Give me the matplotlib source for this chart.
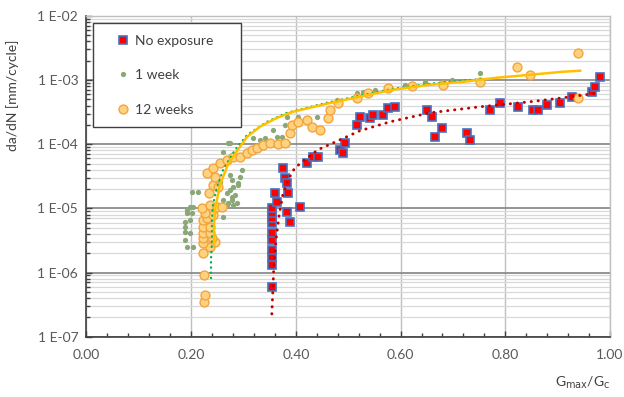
import matplotlib
matplotlib.use('Agg')
import matplotlib.pyplot as plt
from matplotlib.ticker import MultipleLocator, LogLocator, FuncFormatter, NullFormatter
from matplotlib.patches import Rectangle
import numpy as np

plt.rcParams['font.family'] = ['Lato', 'DejaVu Sans']

# No exposure (red squares)
x_none = [0.354, 0.354, 0.354, 0.354, 0.354, 0.354, 0.354, 0.354, 0.354, 0.354,
          0.360, 0.364, 0.375, 0.379, 0.383, 0.385, 0.383, 0.389, 0.408,
          0.421, 0.433, 0.442, 0.484, 0.490, 0.494, 0.517, 0.522, 0.541, 0.547,
          0.566, 0.576, 0.589, 0.650, 0.660, 0.666, 0.679, 0.727, 0.733, 0.771,
          0.790, 0.824, 0.853, 0.862, 0.880, 0.904, 0.927, 0.966, 0.971, 0.981]
y_none = [5.96e-7, 1.32e-6, 1.75e-6, 2.25e-6, 3.23e-6, 4.15e-6, 5.94e-6, 7.1e-6, 8.5e-6, 1.02e-5,
          1.75e-5, 1.26e-5, 4.29e-5, 3.0e-5, 2.5e-5, 1.75e-5, 8.8e-6, 6.15e-6, 1.05e-5,
          5.13e-5, 6.37e-5, 6.37e-5, 8.18e-5, 7.35e-5, 1.05e-4, 2.01e-4, 2.68e-4, 2.58e-4, 2.88e-4,
          2.88e-4, 3.70e-4, 3.84e-4, 3.44e-4, 2.68e-4, 1.31e-4, 1.80e-4, 1.51e-4, 1.17e-4, 3.44e-4,
          4.43e-4, 3.84e-4, 3.44e-4, 3.44e-4, 4.12e-4, 4.43e-4, 5.50e-4, 6.58e-4, 7.87e-4, 1.13e-3]

# 1 week (green dots)
x_1w = [0.1882, 0.1882, 0.1882, 0.1920, 0.2034, 0.1920, 0.1977, 0.2034, 0.1920, 0.2015,
        0.1882, 0.1977, 0.1977, 0.2015, 0.2130, 0.2607, 0.2684, 0.2798, 0.2875, 0.2703,
        0.2779, 0.2779, 0.2684, 0.2798, 0.2894, 0.2932, 0.2741, 0.2970, 0.2779, 0.2894,
        0.2741, 0.2837, 0.2607, 0.2550, 0.2932, 0.3028, 0.2703, 0.2607, 0.2741, 0.3181,
        0.3410, 0.3639, 0.3734, 0.3849, 0.3314, 0.3563, 0.3792, 0.3830, 0.4040, 0.4231,
        0.4403, 0.4785, 0.5167, 0.5282, 0.5511, 0.6084, 0.6466, 0.6982, 0.7517]
y_1w = [6.15e-6, 4.3e-6, 3.23e-6, 2.5e-6, 2.5e-6, 9.5e-6, 1.05e-5, 1.05e-5, 8.5e-6, 8.5e-6,
        5.15e-6, 6.6e-6, 4.15e-6, 1.81e-5, 1.81e-5, 7.37e-6, 1.13e-5, 1.13e-5, 1.22e-5, 1.22e-5,
        1.36e-5, 1.51e-5, 1.75e-5, 2.16e-5, 2.5e-5, 3.1e-5, 3.33e-5, 3.99e-5, 2.79e-5, 2.33e-5,
        1.94e-5, 1.63e-5, 1.36e-5, 2.59e-5, 6.37e-5, 7.62e-5, 1.05e-4, 7.62e-5, 1.05e-4, 1.26e-4,
        1.26e-4, 1.31e-4, 1.31e-4, 1.05e-4, 1.17e-4, 1.68e-4, 2.01e-4, 2.68e-4, 2.68e-4, 2.58e-4,
        2.68e-4, 4.93e-4, 6.34e-4, 6.58e-4, 7.07e-4, 8.45e-4, 9.4e-4, 1.01e-3, 1.30e-3]

# 12 weeks (orange circles)
x_12w = [0.2245, 0.2264, 0.2245, 0.2225, 0.2359, 0.2225, 0.2455, 0.2225, 0.2397, 0.2225,
         0.2359, 0.2225, 0.2359, 0.2225, 0.2302, 0.2416, 0.2264, 0.2206, 0.2359, 0.2493,
         0.2588, 0.2340, 0.2416, 0.2512, 0.2455, 0.2302, 0.2416, 0.2550, 0.2684, 0.2798,
         0.2932, 0.3066, 0.3161, 0.3257, 0.3372, 0.3505, 0.3658, 0.3792, 0.3887, 0.3926,
         0.4040, 0.4212, 0.4308, 0.4461, 0.4613, 0.4651, 0.4804, 0.5167, 0.5377, 0.5759,
         0.6218, 0.6810, 0.7517, 0.8224, 0.8472, 0.9389, 0.9389]
y_12w = [3.47e-7, 4.48e-7, 9.2e-7, 2.02e-6, 2.5e-6, 2.9e-6, 3.0e-6, 3.47e-6, 3.47e-6, 4.15e-6,
         4.15e-6, 5.15e-6, 5.15e-6, 6.6e-6, 7.1e-6, 7.9e-6, 8.5e-6, 1.02e-5, 1.13e-5, 1.05e-5,
         1.05e-5, 1.75e-5, 2.33e-5, 2.16e-5, 3.1e-5, 3.58e-5, 4.29e-5, 5.13e-5, 5.71e-5, 6.37e-5,
         6.37e-5, 7.35e-5, 8.18e-5, 8.8e-5, 9.8e-5, 1.05e-4, 1.01e-4, 1.05e-4, 1.51e-4, 2.01e-4,
         2.24e-4, 2.4e-4, 1.87e-4, 1.68e-4, 2.58e-4, 3.44e-4, 4.43e-4, 5.3e-4, 6.34e-4, 7.59e-4,
         8.15e-4, 8.45e-4, 9.4e-4, 1.61e-3, 1.21e-3, 2.67e-3, 5.3e-4]

# trendlines
tx_none = [0.354, 0.356, 0.358, 0.362, 0.368, 0.375, 0.385, 0.398, 0.417, 0.442,
           0.484, 0.522, 0.580, 0.656, 0.752, 0.847, 0.910, 0.981]
ty_none = [2.26e-7, 5.36e-7, 1.32e-6, 3.23e-6, 7.9e-6, 1.63e-5, 2.79e-5, 4.29e-5, 5.7e-5, 8.2e-5,
           1.17e-4, 1.62e-4, 2.24e-4, 3.09e-4, 3.84e-4, 4.59e-4, 5.3e-4, 6.34e-4]
tx_1w = [0.2378, 0.2378, 0.2397, 0.2397, 0.2416, 0.249, 0.261, 0.284, 0.307, 0.345,
         0.383, 0.459, 0.522, 0.585, 0.656, 0.719, 0.761]
ty_1w = [8.2e-7, 1.57e-6, 3.2e-6, 6.6e-6, 1.13e-5, 2.09e-5, 3.99e-5, 8.18e-5, 1.40e-4, 2.24e-4,
         3.09e-4, 4.43e-4, 5.7e-4, 7.3e-4, 8.77e-4, 9.8e-4, 1.05e-3]
tx_12w = [0.2436, 0.2436, 0.2455, 0.255, 0.270, 0.289, 0.307, 0.331, 0.364, 0.394,
          0.459, 0.522, 0.585, 0.656, 0.719, 0.784, 0.847, 0.910, 0.943]
ty_12w = [2.7e-6, 5.53e-6, 9.5e-6, 2.33e-5, 4.77e-5, 8.18e-5, 1.31e-4, 1.87e-4, 2.58e-4, 3.2e-4,
          4.28e-4, 5.5e-4, 7.07e-4, 8.45e-4, 9.4e-4, 1.09e-3, 1.21e-3, 1.35e-3, 1.40e-3]

txt = '#404040'
fig = plt.figure(figsize=(6.24, 3.97), dpi=100)
ax = fig.add_axes([0.1386, 0.152, 0.8390, 0.8078])

ax.plot(x_none, y_none, 's', ms=5.8, mfc='#ff0000', mec='#4472c4', mew=1.2, label='No exposure', zorder=3)
ax.plot(x_1w, y_1w, 'o', ms=3.8, mfc='#8aa876', mec='#8aa876', mew=0, label='1 week', zorder=3)
ax.plot(x_12w, y_12w, 'o', ms=6.4, mfc='#ffd280', mec='#f4a43c', mew=1.0, label='12 weeks', zorder=3)

ax.plot(tx_1w, ty_1w, color='#00b050', lw=1.7, linestyle=(0, (0.1, 2.1)), dash_capstyle='round', zorder=4)
ax.plot(tx_12w, ty_12w, color='#ffc000', lw=1.8, zorder=4)
ax.plot(tx_none, ty_none, color='#c00000', lw=2.1, linestyle=(0, (0.1, 2.3)), dash_capstyle='round', zorder=4)

ax.set_yscale('log')
ax.set_xlim(0, 1.0)
ax.set_ylim(1e-7, 1e-2)
ax.xaxis.set_major_locator(MultipleLocator(0.2))
ax.xaxis.set_minor_locator(MultipleLocator(0.04))
ax.xaxis.set_major_formatter(FuncFormatter(lambda v, p: '%.2f' % v))
ax.yaxis.set_major_locator(LogLocator(base=10, numticks=10))
ax.yaxis.set_minor_locator(LogLocator(base=10, subs=np.arange(2, 10), numticks=10))
ax.yaxis.set_minor_formatter(NullFormatter())
ax.yaxis.set_major_formatter(FuncFormatter(lambda v, p: '1 E%03d' % int(round(np.log10(v)))))

ax.grid(True, which='major', axis='x', color='#bfbfbf', lw=1.0)
ax.grid(True, which='major', axis='y', color='#8c8c8c', lw=1.3)
ax.grid(True, which='minor', axis='y', color='#d9d9d9', lw=0.9)
ax.set_axisbelow(True)

ax.tick_params(which='both', direction='in', colors=txt, labelsize=10, width=1)
ax.tick_params(which='major', length=4)
ax.tick_params(which='minor', length=3)
ax.tick_params(axis='x', pad=9)
ax.tick_params(axis='y', pad=6)
for lab in ax.get_xticklabels() + ax.get_yticklabels():
    lab.set_color('#595959')

for s in ['left', 'bottom']:
    ax.spines[s].set_color(txt)
    ax.spines[s].set_linewidth(1.2)
for s in ['top', 'right']:
    ax.spines[s].set_color('#bfbfbf')
    ax.spines[s].set_linewidth(1.0)

ax.set_ylabel('da/dN [mm/cycle]', fontsize=10, color='#404040')
ax.yaxis.set_label_coords(-0.129, 0.754)
ax.set_xlabel(r'G$_{\mathrm{max}}$/G$_{\mathrm{c}}$', fontsize=10, color='#404040')
ax.xaxis.set_label_coords(1.0, -0.144)
ax.xaxis.label.set_horizontalalignment('right')
ax.xaxis.label.set_verticalalignment('center')

ax.add_patch(Rectangle((0.0124, 0.654), 0.283, 0.324, transform=ax.transAxes,
                       facecolor='white', edgecolor=txt, lw=1.0, zorder=5))
leg = ax.legend(loc='upper left', bbox_to_anchor=(0.056, 0.942), frameon=False,
                borderpad=0, handlelength=1.0, handletextpad=0.4, labelspacing=1.63,
                fontsize=10, borderaxespad=0)
leg.set_zorder(6)
for t in leg.get_texts():
    t.set_color('#404040')

fig.savefig('out.png', dpi=100)
